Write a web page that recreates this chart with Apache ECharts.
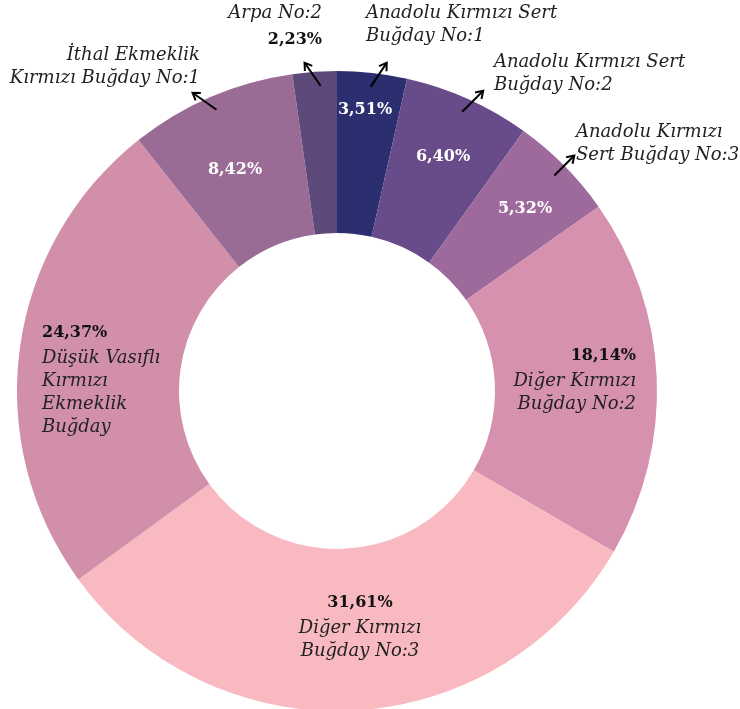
<!DOCTYPE html>
<html>
<head>
<meta charset="utf-8">
<script src="https://cdn.jsdelivr.net/npm/echarts@6/dist/echarts.min.js"></script>
<style>
html, body { margin: 0; padding: 0; background: #fff; }
#chart { width: 740px; height: 709px; }
</style>
</head>
<body>
<div id="chart"></div>
<script>
// slices, clockwise from 12 o'clock
var names = [
	'Anadolu Kırmızı Sert\nBuğday No:1',
	'Anadolu Kırmızı Sert\nBuğday No:2',
	'Anadolu Kırmızı\nSert Buğday No:3',
	'Diğer Kırmızı\nBuğday No:2',
	'Diğer Kırmızı\nBuğday No:3',
	'Düşük Vasıflı\nKırmızı\nEkmeklik\nBuğday',
	'İthal Ekmeklik\nKırmızı Buğday No:1',
	'Arpa No:2'
];
var values = [3.51, 6.40, 5.32, 18.14, 31.61, 24.37, 8.42, 2.23];
var colors = ['#2b2f70', '#684b89', '#9d6a9b', '#d691ae', '#f8b9c0', '#d18fa9', '#9a6b94', '#5d4a7b'];

var cx = 337, cy = 391, r0 = 158, r1 = 320;

// where each label sits: [x, y, align, verticalAlign]
var valueAt = [
	[365, 110, 'center', 'middle'],
	[443, 157, 'center', 'middle'],
	[525, 209, 'center', 'middle'],
	[636, 341, 'right', 'top'],
	[360, 588, 'center', 'top'],
	[42, 318, 'left', 'top'],
	[235, 170, 'center', 'middle'],
	null
];
var nameAt = [
	[366, 2, 'left', 'top'],
	[494, 51, 'left', 'top'],
	[576, 121, 'left', 'top'],
	null, null, null,
	[200, 44, 'right', 'top'],
	[322, 2, 'right', 'top']
];
// outside labels get a small arrow pointing at them
var arrowVec = [[16, -24], [21, -21], [20, -20], null, null, null, [-24, -17], [-16, -23]];

function pct(v) {
	return v.toFixed(2).replace('.', ',') + '%';
}

var serif = 'DejaVu Serif';
var rich = {
	w: { color: '#fff', fontFamily: serif, fontWeight: 'bold', fontSize: 16, lineHeight: 23 },
	v: { color: '#111', fontFamily: serif, fontWeight: 'bold', fontSize: 16, lineHeight: 29 },
	n: { color: '#222', fontFamily: serif, fontStyle: 'italic', fontSize: 18, lineHeight: 23 }
};

function nameRich(name) {
	return name.split('\n').map(function(s) { return '{n|' + s + '}'; }).join('\n');
}

var donutData = values.map(function(v, i) {
	var big = (i == 3 || i == 4 || i == 5);
	var text = '';
	if (i == 7) text = '';
	else if (big) text = '{v|' + pct(v) + '}\n' + nameRich(names[i]);
	else text = '{w|' + pct(v) + '}';
	return {
		name: names[i],
		value: v,
		itemStyle: { color: colors[i] },
		label: { show: text !== '', formatter: text, align: valueAt[i] ? valueAt[i][2] : 'center' }
	};
});

var nameData = values.map(function(v, i) {
	var text = '';
	if (nameAt[i]) {
		text = nameRich(names[i]);
		if (i == 7) text += '\n{v|' + pct(v) + '}';
	}
	return {
		name: names[i],
		value: v,
		label: { show: text !== '', formatter: text, align: nameAt[i] ? nameAt[i][2] : 'left' }
	};
});

// arrows
var total = values.reduce(function(a, b) { return a + b; }, 0);
var graphics = [];
var acc = 0;
values.forEach(function(v, i) {
	var mid = (acc + v / 2) / total * Math.PI * 2;
	acc += v;
	if (!arrowVec[i]) return;
	var r = 306;
	var x1 = cx + r * Math.sin(mid), y1 = cy - r * Math.cos(mid);
	if (i == 7) x1 += 5;
	var x2 = x1 + arrowVec[i][0], y2 = y1 + arrowVec[i][1];
	var len = Math.sqrt(arrowVec[i][0] * arrowVec[i][0] + arrowVec[i][1] * arrowVec[i][1]);
	var ux = arrowVec[i][0] / len, uy = arrowVec[i][1] / len;
	var h = 7, w = 4.5;
	graphics.push({
		type: 'line', z: 100,
		shape: { x1: x1, y1: y1, x2: x2, y2: y2 },
		style: { stroke: '#000', lineWidth: 2 }
	});
	graphics.push({
		type: 'polyline', z: 100,
		shape: { points: [
			[x2 - ux * h - uy * w, y2 - uy * h + ux * w],
			[x2, y2],
			[x2 - ux * h + uy * w, y2 - uy * h - ux * w]
		] },
		style: { stroke: '#000', lineWidth: 2, fill: null }
	});
});

function layoutFrom(table) {
	return function(p) {
		var t = table[p.dataIndex];
		if (!t) return {};
		return { x: t[0], y: t[1], align: t[2], verticalAlign: t[3] };
	};
}

var myChart = echarts.init(document.getElementById('chart'));
var option = {
	animation: false,
	series: [{
		name: 'donut',
		type: 'pie',
		center: [cx, cy],
		radius: [r0, r1],
		startAngle: 90,
		clockwise: true,
		avoidLabelOverlap: false,
		silent: true,
		label: { position: 'inside', rich: rich },
		labelLine: { show: false },
		labelLayout: layoutFrom(valueAt),
		itemStyle: { borderWidth: 0 },
		data: donutData
	}, {
		name: 'names',
		type: 'pie',
		center: [cx, cy],
		radius: [r0, r1],
		startAngle: 90,
		clockwise: true,
		avoidLabelOverlap: false,
		silent: true,
		itemStyle: { color: 'rgba(0,0,0,0)', borderWidth: 0 },
		label: { position: 'inside', rich: rich },
		labelLine: { show: false },
		labelLayout: layoutFrom(nameAt),
		data: nameData
	}],
	graphic: graphics
};
myChart.setOption(option);
</script>
</body>
</html>
